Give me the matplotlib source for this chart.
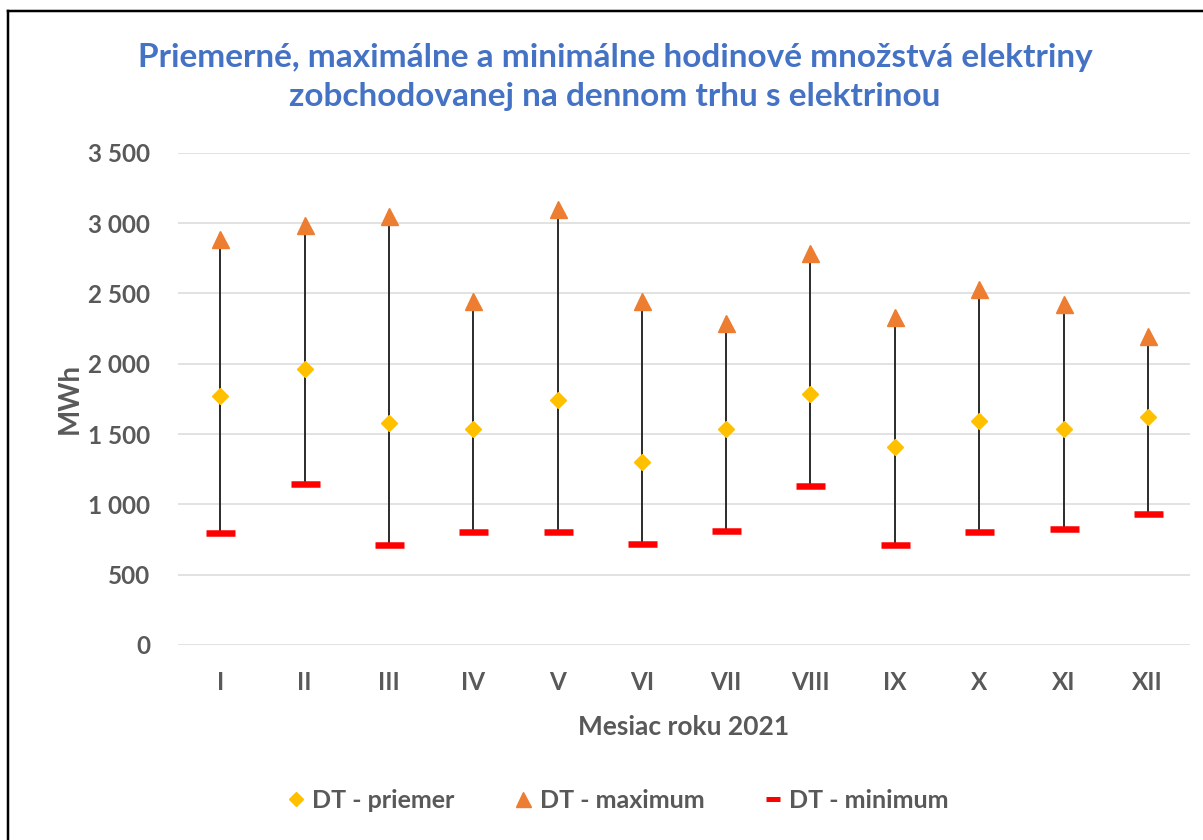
import matplotlib
matplotlib.use('Agg')
from matplotlib import pyplot as plt
from matplotlib.lines import Line2D
from matplotlib.ticker import FuncFormatter

plt.rcParams['font.family'] = ['Lato', 'DejaVu Sans']

# monthly hourly volumes traded on the day-ahead market, MWh
months = ['I', 'II', 'III', 'IV', 'V', 'VI', 'VII', 'VIII', 'IX', 'X', 'XI', 'XII']
dt_avg = [1774, 1966, 1576, 1539, 1739, 1302, 1539, 1786, 1409, 1594, 1539, 1621]
dt_max = [2886, 2986, 3048, 2449, 3098, 2449, 2287, 2789, 2332, 2532, 2422, 2198]
dt_min = [793, 1145, 708, 801, 801, 718, 811, 1130, 708, 801, 828, 930]

title = ('Priemerné, maximálne a minimálne hodinové množstvá elektriny\n'
         'zobchodovanej na dennom trhu s elektrinou')

GREY = '#595959'
W, H = 1203, 840
PT = 72 / 100  # points per pixel at dpi 100
FS = 17

fig = plt.figure(figsize=(W / 100, H / 100), dpi=100)
ax = fig.add_axes([178 / W, 1 - 645 / H, (1190 - 178) / W, (645 - 152.8) / H])

x = list(range(len(months)))

# hi-lo lines between minimum and maximum
ax.vlines(x, dt_min, dt_max, color='#303030', linewidth=2 * PT, zorder=2)

ax.plot(x, dt_avg, linestyle='none', marker='D', markersize=12 * PT,
        color='#FFC000', label='DT - priemer', zorder=4)
ax.plot(x, dt_max, linestyle='none', marker='^', markersize=17 * PT,
        color='#ED7D31', label='DT - maximum', zorder=4)
ax.plot(x, dt_min, linestyle='none', marker='_', markersize=29 * PT,
        markeredgewidth=6.5 * PT, color='#FF0000', label='DT - minimum', zorder=3)

ax.set_xlim(-0.5, len(months) - 0.5)
ax.set_ylim(0, 3500)
ax.set_yticks(range(0, 3501, 500))
ax.yaxis.set_major_formatter(FuncFormatter(lambda v, p: '{:,.0f}'.format(v).replace(',', ' ')))
ax.set_xticks(x)
ax.set_xticklabels(months)

ax.grid(axis='y', color='#D9D9D9', linewidth=1.5 * PT, zorder=0)
ax.set_axisbelow(True)
for side in ['top', 'right', 'left', 'bottom']:
    ax.spines[side].set_visible(False)
ax.tick_params(axis='both', length=0, labelsize=17.5, labelcolor=GREY)
ax.tick_params(axis='y', pad=20)
ax.tick_params(axis='x', pad=19)
for lab in ax.get_xticklabels() + ax.get_yticklabels():
    lab.set_fontweight('bold')

ax.set_xlabel('Mesiac roku 2021', fontsize=19, color=GREY, fontweight='bold', labelpad=15)
ax.set_ylabel('MWh', fontsize=20, color=GREY, fontweight='bold', labelpad=4)

fig.text(615 / W, 1 - 77 / H, title, ha='center', va='center', fontsize=24,
         fontweight='bold', color='#4472C4', linespacing=1.42)

handles = [
    Line2D([], [], linestyle='none', marker='D', markersize=10 * PT, color='#FFC000'),
    Line2D([], [], linestyle='none', marker='^', markersize=15 * PT, color='#ED7D31'),
    Line2D([], [], linestyle='none', marker='_', markersize=14 * PT,
           markeredgewidth=5 * PT, color='#FF0000'),
]
leg = fig.legend(handles, ['DT - priemer', 'DT - maximum', 'DT - minimum'],
                 loc='center', bbox_to_anchor=(618 / W, 1 - 800 / H), ncol=3,
                 frameon=False, fontsize=18, handlelength=0.7, handletextpad=0.3,
                 columnspacing=2.4)
for t in leg.get_texts():
    t.set_color(GREY)
    t.set_fontweight('bold')

# screenshot frame: left and top edges only
fig.add_artist(Line2D([8 / W, 8 / W], [0, 1 - 11 / H], color='black', linewidth=2.5 * PT))
fig.add_artist(Line2D([8 / W, 1], [1 - 11 / H, 1 - 11 / H], color='black', linewidth=2.5 * PT))

fig.savefig('out.png', dpi=100)
